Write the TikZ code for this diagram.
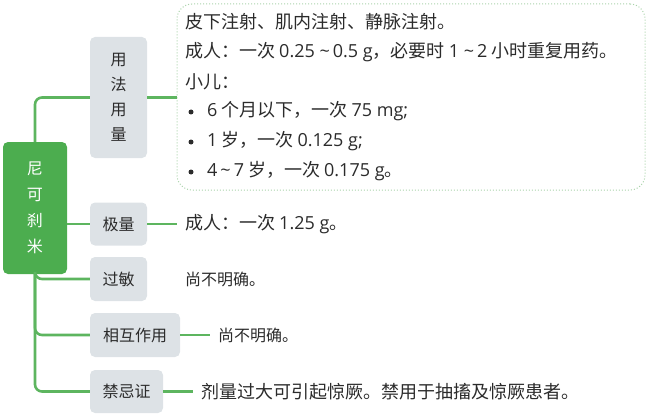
\documentclass[tikz,border=0pt]{standalone}
\usepackage{fontspec}
\setmainfont{Noto Sans CJK SC}
\newfontfamily\latf[Scale=1.0]{Open Sans}
\newcommand{\la}[1]{{\latf #1}}
\newcommand{\tld}{\ \textasciitilde\,}
\begin{document}
\begin{tikzpicture}[x=1pt,y=-1pt,
  conn/.style={draw=linegreen,line width=2.6pt,rounded corners=7pt},
  topic/.style={fill=boxgray,rounded corners=5pt,inner sep=0pt,font=\fontsize{16}{25}\selectfont,text=textdark,align=center},
  txt/.style={anchor=west,inner sep=0pt,font=\fontsize{18}{20}\selectfont,text=textdark},
  txts/.style={txt,font=\fontsize{16}{20}\selectfont},
  dot/.style={circle,fill=textdark,inner sep=0pt,minimum size=5pt}]
\definecolor{linegreen}{HTML}{5DB55F}
\definecolor{rootgreen}{HTML}{4CAD4F}
\definecolor{boxgray}{HTML}{DDE2E6}
\definecolor{textdark}{HTML}{2B2B2B}
\definecolor{dotgreen}{HTML}{A9D3AA}
\useasboundingbox (0,0) rectangle (650,417);
% root
\node[fill=rootgreen,rounded corners=5pt,minimum width=64pt,minimum height=132pt,inner sep=0pt,text=white,align=center,font=\fontsize{16}{26}\selectfont] (root) at (35,208) {尼\\可\\刹\\米};
% topics
\node[topic,minimum width=57pt,minimum height=121pt] (yf) at (118.5,97.5) {用\\法\\用\\量};
\node[topic,minimum width=57pt,minimum height=43pt] (jl) at (118.5,224) {极量};
\node[topic,minimum width=57pt,minimum height=44pt] (gm) at (118.5,279) {过敏};
\node[topic,minimum width=90pt,minimum height=44pt] (xh) at (135,335) {相互作用};
\node[topic,minimum width=73pt,minimum height=43pt] (jj) at (126.5,391.5) {禁忌证};
% content box
\node[draw=dotgreen,dotted,line width=1pt,rounded corners=15pt,minimum width=468pt,minimum height=186pt,inner sep=0pt] (cb) at (411,97) {};
\node[txt] (l1) at (185,22) {皮下注射、肌内注射、静脉注射。};
\node[txt] (l2) at (185,52) {成人：一次 \la{0.25\tld0.5 g}，必要时 \la{1\tld2} 小时重复用药。};
\node[txt] (l3) at (185,82) {小儿：};
\node[dot] (b1) at (191,112) {};
\node[dot] (b2) at (191,142) {};
\node[dot] (b3) at (191,172) {};
\node[txt] (l4) at (207,111) {\la{6} 个月以下，一次 \la{75 mg;}};
\node[txt] (l5) at (207,141) {\la{1} 岁，一次 \la{0.125 g;}};
\node[txt] (l6) at (207,171) {\la{4\,\textasciitilde\,7} 岁，一次 \la{0.175 g}。};
% leaf texts
\node[txt] (t1) at (185,224) {成人：一次 \la{1.25 g}。};
\node[txts] (t2) at (185,279) {尚不明确。};
\node[txts] (t3) at (218,335) {尚不明确。};
\node[txt] (t4) at (201,392) {剂量过大可引起惊厥。禁用于抽搐及惊厥患者。};
% connectors
\draw[conn] (root.north) |- (yf.west);
\draw[conn] (jl.west -| root.east) -- (jl.west);
\draw[conn] (root.south) |- (gm.west);
\draw[conn] (root.south) |- (xh.west);
\draw[conn] (root.south) |- (jj.west);
\draw[conn] (yf.east) -- (yf.east -| cb.west);
\draw[conn] (jl.east) -- ++(30,0) coordinate (c1);
\draw[conn] (xh.east) -- ++(30,0) coordinate (c2);
\draw[conn] (jj.east) -- ++(30,0) coordinate (c3);
\end{tikzpicture}
\end{document}
